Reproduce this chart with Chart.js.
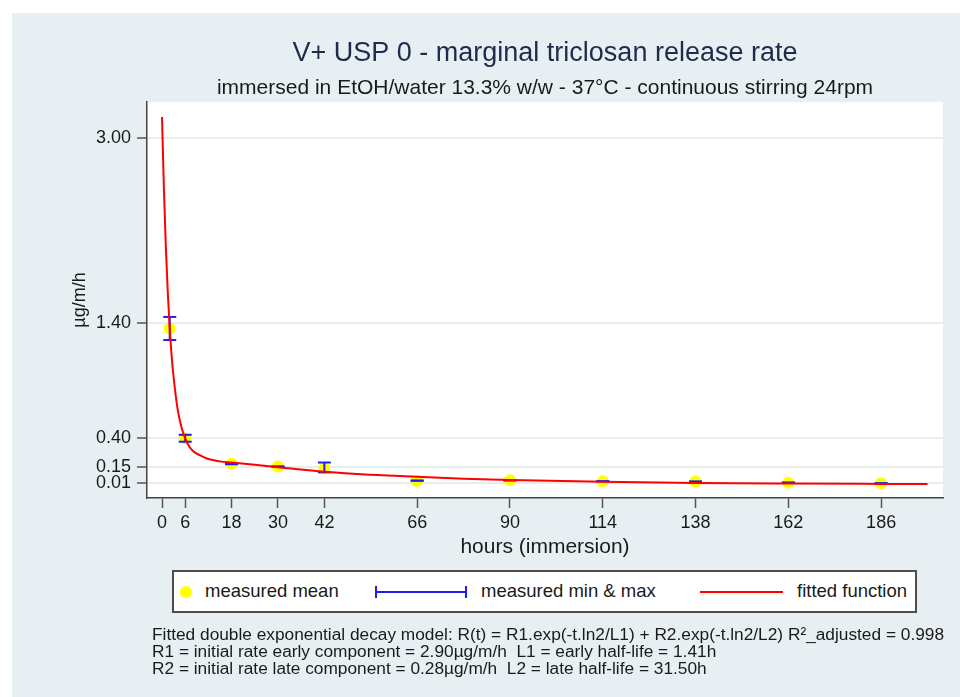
<!DOCTYPE html>
<html>
<head>
<meta charset="utf-8">
<title>V+ USP 0 - marginal triclosan release rate</title>
<script src="https://cdn.jsdelivr.net/npm/chart.js@4.4.1/dist/chart.umd.min.js"></script>
<style>
  html, body { margin: 0; padding: 0; width: 960px; height: 697px; overflow: hidden; background: #fff;
    font-family: 'Liberation Sans', Arial, sans-serif; color: #1a1a1a; }
  #panel { position: absolute; left: 12px; top: 13px; width: 948px; height: 684px; background: #e8eff2; }
  #chart-wrap { position: absolute; left: 0; top: 0; width: 948px; height: 684px; }
  #legend { position: absolute; left: 160px; top: 557px; width: 745px; height: 43px; box-sizing: border-box;
    border: 2px solid #4d4d4d; background: #fff; }
  #legend .txt { position: absolute; top: 9px; font-size: 18.5px; line-height: 20px; white-space: nowrap; }
  #legend .dot { position: absolute; left: 6px; top: 14px; width: 12px; height: 12px; border-radius: 50%; background: #ffff00; }
  #legend .bar { position: absolute; left: 201px; top: 14px; width: 92px; height: 12px; box-sizing: border-box;
    border-left: 2px solid #1f1fef; border-right: 2px solid #1f1fef; }
  #legend .bar::after { content: ''; position: absolute; left: 0; right: 0; top: 5px; height: 2px; background: #1f1fef; }
  #legend .line { position: absolute; left: 526px; top: 19px; width: 83px; height: 2px; background: #ff0000; }
  #notes { position: absolute; left: 140px; top: 613px; font-size: 17.3px; line-height: 17px; white-space: pre; }
</style>
</head>
<body>
<div id="panel">
  <div id="chart-wrap"><canvas id="release-chart"></canvas></div>
  <div id="legend">
    <span class="dot"></span><span class="txt" style="left:31px">measured mean</span>
    <span class="bar"></span><span class="txt" style="left:307px">measured min &amp; max</span>
    <span class="line"></span><span class="txt" style="left:623px">fitted function</span>
  </div>
  <div id="notes">Fitted double exponential decay model: R(t) = R1.exp(-t.ln2/L1) + R2.exp(-t.ln2/L2) R²_adjusted = 0.998
R1 = initial rate early component = 2.90µg/m/h  L1 = early half-life = 1.41h
R2 = initial rate late component = 0.28µg/m/h  L2 = late half-life = 31.50h</div>
</div>
<script>
// measurements (hours of immersion, µg/m/h)
const sampleHours = [2, 6, 18, 30, 42, 66, 90, 114, 138, 162, 186];
const meanRate = [1.35, 0.40, 0.18, 0.155, 0.14, 0.03, 0.036, 0.028, 0.025, 0.016, 0.01];
const minRate = [1.25, 0.37, 0.175, 0.155, 0.105, 0.032, 0.036, 0.028, 0.025, 0.016, 0.01];
const maxRate = [1.45, 0.43, 0.18, 0.155, 0.19, 0.034, 0.036, 0.028, 0.025, 0.016, 0.01];

// fitted curve
const fitHours = [0, 0.5, 1, 1.5, 2, 2.5, 3, 4, 5, 6, 7, 8, 10, 12, 15, 18, 24, 30, 42, 54, 66, 78, 90, 114, 138, 162, 186, 198];
const fitRate = [3.18, 2.55, 2.05, 1.66, 1.35, 1.11, 0.93, 0.66, 0.50, 0.40, 0.33, 0.29, 0.25, 0.22, 0.20, 0.19, 0.17, 0.15, 0.11, 0.085, 0.066, 0.050, 0.039, 0.023, 0.013, 0.008, 0.005, 0.004];

// axis ticks
const xTicks = [0, 6, 18, 30, 42, 66, 90, 114, 138, 162, 186];
const yTicks = [0.01, 0.15, 0.40, 1.40, 3.00];

Chart.defaults.font.family = "'Liberation Sans', Arial, sans-serif";
Chart.defaults.color = '#1a1a1a';

const meanPoints = sampleHours.map((t, i) => ({ x: t, y: meanRate[i] }));
// each min/max pair is its own little segment, separated by a gap
const rangePoints = [];
sampleHours.forEach((t, i) => {
    rangePoints.push({ x: t, y: minRate[i] }, { x: t, y: maxRate[i] }, { x: t, y: null });
});
const fitPoints = fitHours.map((t, i) => ({ x: t, y: fitRate[i] }));

const plotBackground = {
    id: 'plotBackground',
    beforeDraw(chart) {
        const { ctx, chartArea: a } = chart;
        ctx.save();
        ctx.fillStyle = '#ffffff';
        ctx.fillRect(a.left, a.top, a.right - a.left, a.bottom - a.top);
        ctx.restore();
    }
};

const ctx = document.getElementById('release-chart').getContext('2d');
new Chart(ctx, {
    type: 'line',
    data: {
        datasets: [{
            label: 'fitted function',
            data: fitPoints,
            borderColor: '#ff0000',
            borderWidth: 2,
            pointRadius: 0,
            cubicInterpolationMode: 'monotone',
            order: 1
        }, {
            label: 'measured min & max',
            data: rangePoints,
            borderColor: '#1f1fef',
            borderWidth: 2,
            pointStyle: 'line',
            pointRadius: 6.5,
            pointBorderWidth: 2,
            pointBorderColor: '#1f1fef',
            spanGaps: false,
            order: 2
        }, {
            label: 'measured mean',
            data: meanPoints,
            showLine: false,
            pointRadius: 6,
            pointBorderWidth: 0,
            pointBackgroundColor: '#ffff00',
            order: 3
        }]
    },
    options: {
        responsive: true,
        maintainAspectRatio: false,
        animation: false,
        events: [],
        layout: { padding: { left: 0, right: 17, top: 0, bottom: 129 } },
        scales: {
            x: {
                type: 'linear',
                min: -3.88,
                max: 202,
                bounds: 'data',
                afterBuildTicks: scale => { scale.ticks = xTicks.map(v => ({ value: v })); },
                afterFit: scale => { scale.height = 70; },
                ticks: { autoSkip: false, maxRotation: 0, padding: 4, font: { size: 18 }, color: '#1a1a1a',
                    callback: v => String(v) },
                grid: { drawOnChartArea: false, drawTicks: true, tickLength: 10, tickColor: '#555', tickWidth: 1.5 },
                border: { display: true, color: '#444', width: 1.5 },
                title: { display: true, text: 'hours (immersion)', font: { size: 21 }, color: '#1a1a1a',
                    padding: { top: 0, bottom: 8 } }
            },
            y: {
                type: 'linear',
                min: -0.117,
                max: 3.31,
                bounds: 'data',
                afterBuildTicks: scale => { scale.ticks = yTicks.map(v => ({ value: v })); },
                afterFit: scale => { scale.width = 135; },
                ticks: { padding: 6, font: { size: 18 }, color: '#1a1a1a', callback: v => v.toFixed(2) },
                grid: { color: '#e6eef0', lineWidth: 2, tickLength: 10, tickColor: '#555', tickWidth: 1.5 },
                border: { display: true, color: '#444', width: 1.5 },
                title: { display: true, text: 'µg/m/h', font: { size: 18 }, color: '#1a1a1a',
                    padding: { top: 57, bottom: 0 } }
            }
        },
        plugins: {
            legend: { display: false },
            tooltip: { enabled: false },
            title: {
                display: true,
                fullSize: false,
                text: 'V+ USP 0 - marginal triclosan release rate',
                font: { size: 27, weight: 'normal' },
                color: '#1f2b4d',
                padding: { top: 24, bottom: 0 }
            },
            subtitle: {
                display: true,
                fullSize: false,
                text: 'immersed in EtOH/water 13.3% w/w - 37°C - continuous stirring 24rpm',
                font: { size: 21 },
                color: '#1a1a1a',
                padding: { top: 6, bottom: 1.4 }
            }
        }
    },
    plugins: [plotBackground]
});
</script>
</body>
</html>
